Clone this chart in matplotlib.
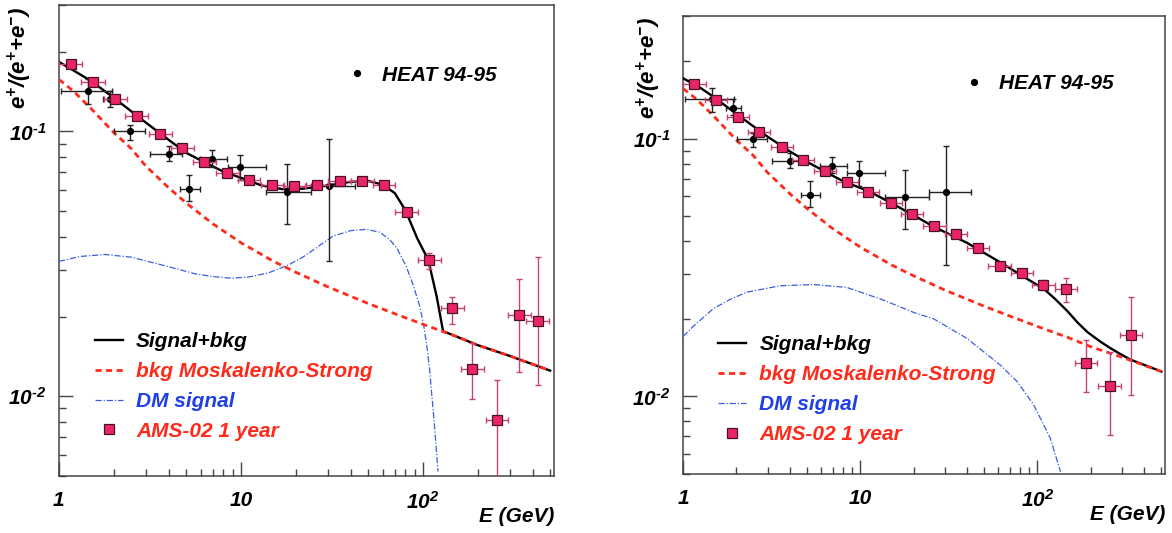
import matplotlib
matplotlib.use('Agg')
import matplotlib.pyplot as plt
from matplotlib.ticker import NullFormatter, LogLocator

plt.rcParams['font.family'] = ['Liberation Sans', 'DejaVu Sans']
plt.rcParams['font.weight'] = 'bold'
plt.rcParams['font.style'] = 'italic'
plt.rcParams['mathtext.fontset'] = 'custom'
plt.rcParams['mathtext.rm'] = 'Liberation Sans:bold:italic'
plt.rcParams['mathtext.it'] = 'Liberation Sans:bold:italic'

# ---- data ----
# background (Moskalenko-Strong), same in both panels
bkg_E = [1, 1.2, 1.5, 2, 2.5, 3, 4, 5, 7, 10, 15, 20, 30, 50, 70, 100, 150, 200, 300, 500]
bkg_y = [0.157, 0.142, 0.122, 0.099, 0.086, 0.074, 0.0613, 0.0537, 0.0448, 0.038, 0.0324,
         0.0294, 0.0259, 0.0224, 0.0205, 0.0187, 0.0169, 0.0156, 0.0142, 0.0125]

# signal + bkg, left panel
sigL_E = [1, 1.2, 1.5, 2, 2.5, 3, 4, 5, 6.3, 8, 10, 13, 17, 22, 30, 40, 50, 60, 70, 80,
          93, 107, 119, 129, 150, 200, 300, 500]
sigL_y = [0.183, 0.170, 0.155, 0.134, 0.119, 0.108, 0.093, 0.083, 0.0765, 0.0705, 0.0668,
          0.0625, 0.0605, 0.0608, 0.0625, 0.0645, 0.065, 0.0630, 0.0585, 0.0505, 0.0395,
          0.0327, 0.0238, 0.0176, 0.0169, 0.0156, 0.0142, 0.0125]
# DM signal, left panel
dmL_E = [1, 1.3, 1.79, 2.5, 3.37, 4.5, 5.59, 7, 8.89, 11, 14.1, 18.2, 22, 32, 40, 49, 58,
         66, 72, 81, 88, 96, 101, 105, 109, 112, 115, 118, 121]
dmL_y = [0.0323, 0.0337, 0.0343, 0.0335, 0.0318, 0.0302, 0.029, 0.0283, 0.0279, 0.0282,
         0.0292, 0.0313, 0.0336, 0.0402, 0.0422, 0.0427, 0.0416, 0.0389, 0.0362, 0.0309,
         0.0265, 0.0219, 0.0185, 0.0155, 0.0125, 0.0100, 0.0082, 0.0065, 0.0052]

# signal + bkg, right panel
sigR_E = [1, 1.25, 1.5, 2, 3, 4, 5, 6.3, 8, 11.2, 15, 20, 26, 40, 62, 87.5, 109, 125, 147,
          168, 191, 227, 258, 294, 335, 500]
sigR_y = [0.172, 0.158, 0.145, 0.125, 0.102, 0.0895, 0.0815, 0.0748, 0.0685, 0.0626,
          0.0563, 0.0505, 0.0456, 0.0395, 0.0331, 0.0286, 0.0261, 0.0240, 0.0215, 0.0194,
          0.0178, 0.0163, 0.0154, 0.0146, 0.0139, 0.0125]
# DM signal, right panel
dmR_E = [1, 1.15, 1.48, 1.84, 2.29, 3.53, 5.45, 8.4, 13, 17, 20, 26, 40, 62, 77, 95, 118, 135]
dmR_y = [0.0171, 0.0188, 0.0219, 0.0238, 0.0254, 0.0269, 0.0272, 0.0265, 0.0239, 0.0222,
         0.0212, 0.0200, 0.0168, 0.0132, 0.0114, 0.0093, 0.0069, 0.0051]

# HEAT 94-95 points
heat_E = [1.45, 1.91, 2.47, 4.04, 5.18, 6.9, 9.9, 17.8, 30.5]
heat_y = [0.1425, 0.132, 0.100, 0.0824, 0.0607, 0.0785, 0.0735, 0.0593, 0.0622]
heat_Elo = [1.02, 1.75, 2.01, 3.16, 4.62, 5.95, 8.45, 13.8, 24.4]
heat_Ehi = [1.95, 2.12, 2.97, 4.72, 5.95, 8.4, 13.8, 24.4, 42.3]
heat_ylo = [0.127, 0.124, 0.093, 0.077, 0.0546, 0.0735, 0.0655, 0.0447, 0.0324]
heat_yhi = [0.158, 0.1425, 0.1054, 0.088, 0.0684, 0.085, 0.0817, 0.0756, 0.094]

# AMS-02 1 year projections
ams_E = [1.16, 1.54, 2.04, 2.68, 3.6, 4.75, 6.3, 8.4, 11.1, 14.9, 19.6, 26.2, 34.8, 46.3,
         61.1, 81.6, 108, 145, 187, 255, 338, 427]
ams_Elo = [1.0, 1.33, 1.77, 2.32, 3.12, 4.11, 5.45, 7.27, 9.6, 12.9, 17.0, 22.7, 30.1, 40.1,
           52.9, 70.6, 93.5, 125, 162, 221, 293, 370]
ams_Ehi = [1.34, 1.78, 2.36, 3.1, 4.16, 5.49, 7.28, 9.7, 12.8, 17.2, 22.6, 30.3, 40.2, 53.5,
           70.6, 94.3, 125, 168, 216, 295, 390, 493]
amsL_y = [0.180, 0.153, 0.132, 0.1145, 0.098, 0.0866, 0.0764, 0.0697, 0.0653, 0.0630,
          0.0620, 0.0630, 0.0650, 0.0650, 0.0630, 0.0497, 0.0327, 0.0215, 0.0127, 0.00817,
          0.0202, 0.0193]
amsL_dn = [0, 0, 0, 0, 0, 0, 0, 0, 0, 0, 0, 0, 0, 0, 0, 0.0014, 0.0025, 0.0027, 0.0029,
           0.0042, 0.0079, 0.0083]
amsL_up = [0, 0, 0, 0, 0, 0, 0, 0, 0, 0, 0, 0, 0, 0, 0, 0.0015, 0.0020, 0.0023, 0.0032,
           0.0034, 0.0075, 0.0143]
amsR_y = [0.164, 0.1415, 0.122, 0.106, 0.093, 0.083, 0.0748, 0.0678, 0.0622, 0.0565,
          0.0513, 0.0458, 0.0428, 0.0376, 0.0321, 0.0301, 0.0272, 0.0261, 0.0135, 0.0110,
          0.01726]
amsR_dn = [0, 0, 0, 0, 0, 0, 0, 0, 0, 0, 0, 0, 0, 0, 0, 0.001, 0.0012, 0.0028, 0.0031,
           0.0039, 0.0071]
amsR_up = [0, 0, 0, 0, 0, 0, 0, 0, 0, 0, 0, 0, 0, 0, 0, 0.001, 0.0012, 0.0027, 0.0030,
           0.0039, 0.0070]

x_ticks = [1, 10, 100]
x_ticklabels = ['1', '10', r'$\mathregular{10^{2}}$']
y_ticks = [0.01, 0.1]
y_ticklabels = [r'$\mathregular{10^{\text{-}2}}$', r'$\mathregular{10^{\text{-}1}}$']
legend_labels = ['Signal+bkg', 'bkg Moskalenko-Strong', 'DM signal', 'AMS-02 1 year']

RED = '#ff2a1a'
BLUE = '#3a5ee0'
PINK = '#ea2567'
PINK_EDGE = '#4a1028'
PINK_BAR = '#c8407a'
FS = 15


def panel(ax, sig_E, sig_y, dm_E, dm_y, ams_y, ams_dn, ams_up, heat_anchor, leg_anchor):
    n = len(ams_y)
    sig, = ax.plot(sig_E, sig_y, color='black', lw=1.7, zorder=3)
    bkg, = ax.plot(bkg_E, bkg_y, color=RED, lw=2, ls=(0, (2.2, 1.6)), zorder=4)
    dm, = ax.plot(dm_E, dm_y, color=BLUE, lw=0.9, ls=(0, (5, 1.5, 1, 1.5)), zorder=3)

    ax.errorbar(heat_E, heat_y,
                xerr=[[e - lo for e, lo in zip(heat_E, heat_Elo)],
                      [hi - e for e, hi in zip(heat_E, heat_Ehi)]],
                yerr=[[y - lo for y, lo in zip(heat_y, heat_ylo)],
                      [hi - y for y, hi in zip(heat_y, heat_yhi)]],
                fmt='none', ecolor='#222222', elinewidth=1, capsize=2.5, zorder=5)
    heat, = ax.plot(heat_E, heat_y, 'o', color='black', ms=4.2, zorder=6)

    E = ams_E[:n]
    ax.errorbar(E, ams_y,
                xerr=[[e - lo for e, lo in zip(E, ams_Elo)],
                      [hi - e for e, hi in zip(E, ams_Ehi)]],
                yerr=[ams_dn, ams_up],
                fmt='none', ecolor=PINK_BAR, elinewidth=1, capsize=2, zorder=6)
    ams, = ax.plot(E, ams_y, 's', mfc=PINK, mec=PINK_EDGE, mew=0.9, ms=6.6, zorder=7)

    ax.set_xscale('log')
    ax.set_yscale('log')
    ax.set_xlim(1, 525)
    ax.set_ylim(0.005, 0.3)
    ax.set_xticks(x_ticks, x_ticklabels)
    ax.set_yticks(y_ticks, y_ticklabels)
    ax.xaxis.set_minor_locator(LogLocator(subs=range(2, 10)))
    ax.yaxis.set_minor_locator(LogLocator(subs=range(2, 10)))
    ax.xaxis.set_minor_formatter(NullFormatter())
    ax.yaxis.set_minor_formatter(NullFormatter())
    ax.tick_params(which='both', direction='in', top=False, right=False,
                   color='#444444', width=1, labelsize=FS)
    ax.tick_params(which='major', length=10)
    ax.tick_params(which='minor', length=5)
    ax.tick_params(axis='x', pad=11)
    ax.tick_params(axis='y', pad=9)
    for s in ax.spines.values():
        s.set_color('#444444')
        s.set_linewidth(1.1)

    lg = ax.legend([heat], ['HEAT 94-95'], loc='center left', bbox_to_anchor=heat_anchor,
                   frameon=False, fontsize=FS, handlelength=1.0, handletextpad=0.7,
                   borderpad=0, borderaxespad=0)
    ax.add_artist(lg)
    leg = ax.legend([sig, bkg, dm, ams], legend_labels, loc='upper left',
                    bbox_to_anchor=leg_anchor, frameon=False, fontsize=FS,
                    handlelength=1.35, handletextpad=0.62, labelspacing=0.52,
                    borderpad=0, borderaxespad=0)
    for t, c in zip(leg.get_texts(), ['black', RED, '#1f3fe8', RED]):
        t.set_color(c)
    return ax


fig = plt.figure(figsize=(11.72, 5.33), dpi=100)
axL = fig.add_axes([0.0503, 0.1069, 0.4224, 0.8837])
axR = fig.add_axes([0.5828, 0.1107, 0.4113, 0.8593])

panel(axL, sigL_E, sigL_y, dmL_E, dmL_y, amsL_y, amsL_dn, amsL_up,
      (0.581, 0.851), (0.0727, 0.3055))
panel(axR, sigR_E, sigR_y, dmR_E, dmR_y, amsR_y, amsR_dn, amsR_up,
      (0.5828, 0.853), (0.0732, 0.3027))

ylabel = r'$\mathregular{e^{+}/(e^{+}{+}e^{-})}$'
axL.text(-0.079, 0.996, ylabel, transform=axL.transAxes, rotation=90,
         ha='center', va='top', fontsize=16)
axR.text(-0.0705, 0.998, ylabel, transform=axR.transAxes, rotation=90,
         ha='center', va='top', fontsize=16)
axL.text(1.0, -0.0864, 'E (GeV)', transform=axL.transAxes, ha='right', va='center', fontsize=FS)
axR.text(1.0, -0.0895, 'E (GeV)', transform=axR.transAxes, ha='right', va='center', fontsize=FS)

fig.savefig('out.png', dpi=100)
